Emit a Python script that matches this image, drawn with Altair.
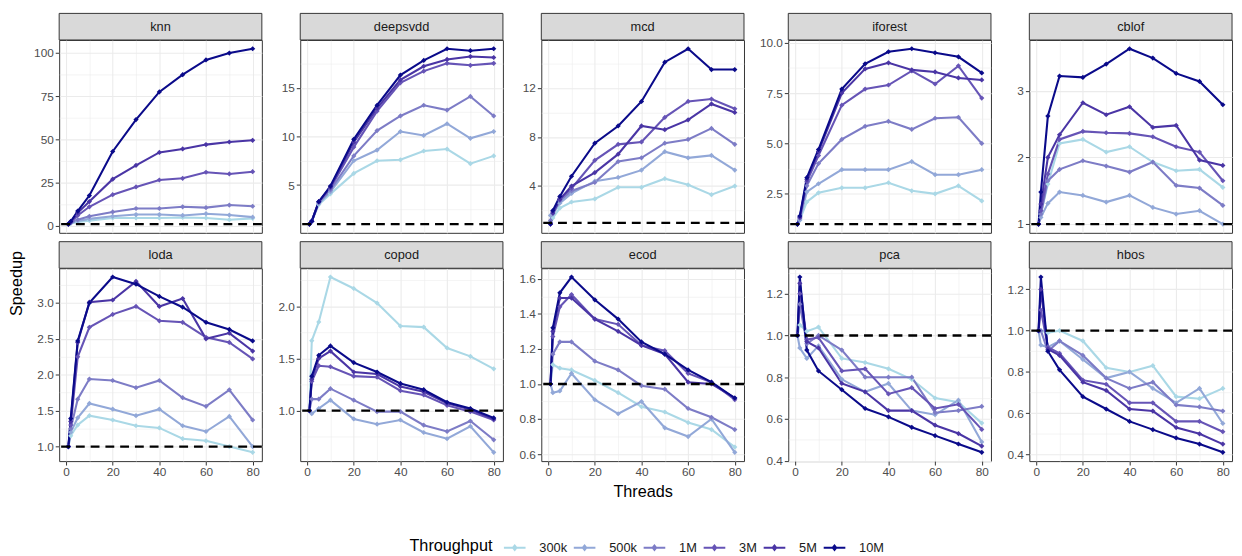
import json
import altair as alt
import pandas as pd

threads = [1, 2, 5, 10, 20, 30, 40, 50, 60, 70, 80]
levels = ["300k", "500k", "1M", "3M", "5M", "10M"]
palette = ["#aad8e6", "#92a8d8", "#7d7cc6", "#6654b6", "#4a35a5", "#0a0a8a"]

knn = {
    "300k": [1, 1.4, 2.2, 3.0, 4.5, 4.5, 4.5, 4.8, 4.5, 3.5, 4.3],
    "500k": [1, 1.6, 2.8, 4.0, 5.5, 6.5, 6.5, 6.0, 7.0, 6.2, 5.0],
    "1M": [1, 1.8, 3.5, 5.5, 8.0, 10.0, 10.0, 11.0, 10.5, 12.0, 11.3],
    "3M": [1, 2.0, 6.0, 11.0, 18.0, 22.5, 26.5, 27.5, 31.0, 30.0, 31.3],
    "5M": [1, 2.3, 7.5, 14.0, 27.0, 35.0, 42.5, 44.5, 47.0, 48.5, 49.5],
    "10M": [1, 2.5, 8.5, 17.5, 43.0, 61.5, 77.5, 87.5, 96.0, 100.0, 102.5],
}
deepsvdd = {
    "300k": [1, 1.3, 3.0, 4.1, 6.2, 7.5, 7.6, 8.5, 8.7, 7.2, 8.0],
    "500k": [1, 1.3, 3.1, 4.3, 7.5, 8.6, 10.5, 10.1, 11.3, 9.8, 10.5],
    "1M": [1, 1.3, 3.2, 4.5, 8.0, 10.6, 12.1, 13.2, 12.7, 14.1, 12.1],
    "3M": [1, 1.3, 3.3, 4.7, 8.9, 12.6, 15.5, 16.7, 17.5, 17.3, 17.5],
    "5M": [1, 1.3, 3.3, 4.8, 9.4, 12.9, 15.8, 17.2, 17.9, 18.2, 18.1],
    "10M": [1, 1.3, 3.3, 4.9, 9.7, 13.2, 16.3, 17.8, 19.0, 18.8, 19.0],
}
mcd = {
    "300k": [1.1, 1.4, 2.2, 2.7, 2.95, 3.9, 3.9, 4.6, 4.1, 3.3, 4.0],
    "500k": [1.6, 1.7, 2.6, 3.4, 4.4, 4.7, 5.3, 6.8, 6.3, 6.5, 5.3],
    "1M": [1.2, 1.8, 2.8, 3.6, 4.3, 6.0, 6.3, 7.5, 7.8, 8.7, 7.4],
    "3M": [1.0, 1.9, 3.0, 3.8, 6.1, 7.4, 7.6, 9.6, 10.9, 11.1, 10.3],
    "5M": [0.9, 1.8, 2.9, 4.0, 5.1, 6.6, 8.9, 8.6, 9.4, 10.7, 10.0],
    "10M": [0.9, 2.0, 3.15, 4.8, 7.5, 8.9, 10.9, 14.1, 15.2, 13.5, 13.5],
}
iforest = {
    "300k": [1.0, 1.2, 2.1, 2.55, 2.8, 2.8, 3.05, 2.65, 2.5, 2.9, 2.15],
    "500k": [1.0, 1.2, 2.6, 3.0, 3.7, 3.7, 3.7, 4.1, 3.45, 3.45, 3.7],
    "1M": [1.0, 1.3, 2.9, 4.0, 5.2, 5.85, 6.1, 5.7, 6.25, 6.3, 5.0],
    "3M": [1.0, 1.3, 3.1, 4.4, 6.9, 7.7, 7.9, 8.6, 7.95, 8.85, 7.25],
    "5M": [1.0, 1.35, 3.2, 4.6, 7.5, 8.7, 9.0, 8.65, 8.55, 8.25, 8.15],
    "10M": [1.0, 1.4, 3.3, 4.7, 7.7, 8.95, 9.55, 9.7, 9.5, 9.3, 8.5],
}
cblof = {
    "300k": [1.0, 1.15, 1.6, 2.21, 2.27, 2.08, 2.16, 1.93, 1.8, 1.82, 1.55],
    "500k": [1.0, 1.1, 1.31, 1.48, 1.43, 1.33, 1.43, 1.25, 1.15, 1.2, 1.0],
    "1M": [1.0, 1.15, 1.65, 1.82, 1.95, 1.87, 1.78, 1.93, 1.58, 1.54, 1.28],
    "3M": [1.0, 1.2, 1.75, 2.27, 2.39, 2.37, 2.36, 2.31, 2.16, 2.08, 1.65],
    "5M": [1.0, 1.3, 2.0, 2.34, 2.82, 2.64, 2.76, 2.45, 2.48, 1.96, 1.88],
    "10M": [1.0, 1.48, 2.62, 3.22, 3.2, 3.4, 3.63, 3.49, 3.26, 3.14, 2.79],
}
loda = {
    "300k": [1.0, 1.15, 1.3, 1.43, 1.37, 1.29, 1.26, 1.11, 1.08, 1.0, 0.92],
    "500k": [1.0, 1.2, 1.4, 1.6, 1.52, 1.43, 1.52, 1.29, 1.21, 1.42, 1.0],
    "1M": [1.0, 1.25, 1.66, 1.94, 1.92, 1.82, 1.92, 1.68, 1.56, 1.79, 1.37],
    "3M": [1.0, 1.3, 2.25, 2.66, 2.84, 2.95, 2.75, 2.73, 2.52, 2.45, 2.22],
    "5M": [1.0, 1.35, 2.45, 3.01, 3.04, 3.3, 2.95, 3.06, 2.5, 2.58, 2.33],
    "10M": [1.0, 1.39, 2.47, 3.0, 3.36, 3.26, 3.09, 2.94, 2.73, 2.63, 2.47],
}
copod = {
    "300k": [1.0, 1.67, 1.85, 2.28, 2.17, 2.03, 1.81, 1.8, 1.6, 1.52, 1.4],
    "500k": [1.0, 0.97, 1.02, 1.1, 0.92, 0.87, 0.91, 0.79, 0.73, 0.85, 0.6],
    "1M": [1.0, 1.11, 1.11, 1.21, 1.1, 0.99, 0.99, 0.86, 0.8, 0.9, 0.72],
    "3M": [1.0, 1.28, 1.43, 1.42, 1.33, 1.32, 1.19, 1.15, 1.05, 0.99, 0.91],
    "5M": [1.0, 1.3, 1.5, 1.57, 1.37, 1.35, 1.23, 1.18, 1.07, 1.01, 0.92],
    "10M": [1.0, 1.33, 1.53, 1.62, 1.46, 1.37, 1.26, 1.2, 1.08, 1.02, 0.93],
}
ecod = {
    "300k": [1.0, 1.11, 1.09, 1.08, 1.02, 0.95, 0.87, 0.84, 0.78, 0.74, 0.64],
    "500k": [1.0, 0.95, 0.96, 1.06, 0.91, 0.83, 0.9, 0.75, 0.7, 0.8, 0.61],
    "1M": [1.0, 1.17, 1.24, 1.24, 1.13, 1.08, 0.99, 0.97, 0.86, 0.81, 0.74],
    "3M": [1.0, 1.27, 1.44, 1.51, 1.37, 1.34, 1.22, 1.19, 1.06, 1.01, 0.91],
    "5M": [1.0, 1.3, 1.49, 1.49, 1.37, 1.3, 1.22, 1.17, 1.01, 1.0, 0.92],
    "10M": [1.0, 1.32, 1.52, 1.61, 1.48, 1.37, 1.24, 1.17, 1.08, 1.01, 0.92],
}
pca = {
    "300k": [1.0, 1.05, 1.02, 1.04, 0.89, 0.87, 0.84, 0.79, 0.7, 0.68, 0.58],
    "500k": [1.0, 0.94, 0.89, 0.95, 0.79, 0.73, 0.77, 0.64, 0.62, 0.69, 0.49],
    "1M": [1.0, 1.15, 0.96, 1.0, 0.93, 0.8, 0.8, 0.8, 0.63, 0.64, 0.66],
    "3M": [1.0, 1.2, 0.98, 0.99, 0.83, 0.84, 0.72, 0.75, 0.65, 0.67, 0.55],
    "5M": [1.0, 1.25, 0.97, 0.94, 0.77, 0.73, 0.64, 0.64, 0.57, 0.53, 0.47],
    "10M": [1.0, 1.28, 0.93, 0.83, 0.74, 0.65, 0.61, 0.56, 0.52, 0.48, 0.44],
}
hbos = {
    "300k": [1.0, 1.0, 0.99, 1.0, 0.95, 0.82, 0.8, 0.83, 0.68, 0.67, 0.72],
    "500k": [1.0, 0.93, 0.92, 0.95, 0.86, 0.77, 0.8, 0.72, 0.65, 0.72, 0.55],
    "1M": [1.0, 1.0, 0.9, 0.95, 0.88, 0.77, 0.72, 0.75, 0.64, 0.63, 0.61],
    "3M": [1.0, 1.1, 0.92, 0.89, 0.76, 0.74, 0.65, 0.65, 0.56, 0.56, 0.51],
    "5M": [1.0, 1.2, 0.91, 0.88, 0.75, 0.71, 0.62, 0.61, 0.53, 0.5, 0.45],
    "10M": [1.0, 1.26, 0.9, 0.81, 0.68, 0.62, 0.56, 0.52, 0.48, 0.45, 0.41],
}

DATA = {"knn": knn, "deepsvdd": deepsvdd, "mcd": mcd, "iforest": iforest, "cblof": cblof,
        "loda": loda, "copod": copod, "ecod": ecod, "pca": pca, "hbos": hbos}

y_ticks = {
    "knn": [0, 25, 50, 75, 100],
    "deepsvdd": [5, 10, 15],
    "mcd": [4, 8, 12],
    "iforest": [2.5, 5.0, 7.5, 10.0],
    "cblof": [1, 2, 3],
    "loda": [1.0, 1.5, 2.0, 2.5, 3.0],
    "copod": [1.0, 1.5, 2.0],
    "ecod": [0.6, 0.8, 1.0, 1.2, 1.4, 1.6],
    "pca": [0.4, 0.6, 0.8, 1.0, 1.2],
    "hbos": [0.4, 0.6, 0.8, 1.0, 1.2],
}
y_fmt = {"knn": "d", "deepsvdd": "d", "mcd": "d", "cblof": "d"}
x_ticks = [0, 20, 40, 60, 80]

layout_cols = [("knn", "loda"), ("deepsvdd", "copod"), ("mcd", "ecod"),
               ("iforest", "pca"), ("cblof", "hbos")]

W, H, STRIP = 206, 196, 27
FONT = "Liberation Sans"


def expand(lo, hi, f=0.05):
    p = (hi - lo) * f
    return [lo - p, hi + p]


def with_minor(majors, dom):
    step = majors[1] - majors[0]
    minors = [round(majors[0] - step / 2 + k * step, 6) for k in range(len(majors) + 1)]
    vals = sorted(set(majors + [m for m in minors if dom[0] <= m <= dom[1]]))
    return vals


def axis_for(majors, dom, fmt, show_labels, title):
    test = "indexof(%s, datum.value) >= 0" % json.dumps(majors)
    kw = dict(
        values=with_minor(majors, dom),
        format=fmt,
        labelExpr="%s ? datum.label : ''" % test,
        labelOverlap=False,
        labelFlush=False,
        gridWidth={"condition": {"test": test, "value": 1.1}, "value": 0.55},
        tickOpacity={"condition": {"test": test, "value": 1}, "value": 0},
        labels=show_labels,
        ticks=show_labels,
        title=title,
    )
    return alt.Axis(**kw)


legend = alt.Legend(
    orient="none", legendX=356, legendY=504, direction="horizontal",
    title="Throughput", titleOrient="left", titleFontSize=16.5, titleFontWeight="normal",
    titleFont=FONT, titleColor="black", titlePadding=10, labelFontSize=13, labelFont=FONT,
    labelColor="#1a1a1a", labelOffset=13, columnPadding=2,
    symbolType="M-1,0L1,0M-0.16,0L0,-0.2L0.16,0L0,0.2Z", symbolSize=484,
    symbolStrokeWidth=2,
)


def panel(name, bottom):
    series = DATA[name]
    rows = [{"threads": t, "speedup": v, "throughput": lv}
            for lv in levels for t, v in zip(threads, series[lv])]
    df = pd.DataFrame(rows)
    vals = df["speedup"].tolist() + [1.0]
    ydom = expand(min(vals), max(vals))
    xdom = expand(min(threads), max(threads))
    xaxis = axis_for(x_ticks, xdom, "d", bottom, "Threads" if name == "ecod" else None)
    yaxis = axis_for(y_ticks[name], ydom, y_fmt.get(name, ".1f"), True, None)
    X = alt.X("threads:Q", scale=alt.Scale(domain=xdom, nice=False, zero=False), axis=xaxis)
    Y = alt.Y("speedup:Q", scale=alt.Scale(domain=ydom, nice=False, zero=False), axis=yaxis)
    C = alt.Color("throughput:N", scale=alt.Scale(domain=levels, range=palette), legend=legend)
    base = alt.Chart(df)
    line = base.mark_line(strokeWidth=2.1).encode(x=X, y=Y, color=C)
    pts = base.mark_point(shape="diamond", filled=True, size=28, opacity=1).encode(x=X, y=Y, color=C)
    hline = alt.Chart(pd.DataFrame({"speedup": [1.0]})).mark_rule(
        color="black", strokeWidth=2.4, strokeDash=[9, 6]).encode(y=Y)
    strip = alt.Chart(pd.DataFrame({"label": [name]})).mark_rect(
        fill="#d9d9d9", stroke="#333333", strokeWidth=1).encode(
        x=alt.value(0), x2=alt.value(W), y=alt.value(-STRIP), y2=alt.value(0))
    txt = alt.Chart(pd.DataFrame({"label": [name]})).mark_text(
        fontSize=13, font=FONT, color="#1a1a1a", baseline="middle").encode(
        text="label:N", x=alt.value(W / 2), y=alt.value(-STRIP / 2))
    return alt.layer(line, pts, hline, strip, txt).properties(width=W, height=H)


cols = [alt.vconcat(panel(t, False), panel(b, True), spacing=36, bounds="flush")
        for t, b in layout_cols]

chart = alt.hconcat(*cols, spacing=13, bounds="full").properties(
    title=alt.TitleParams(text="Speedup", orient="left", anchor="middle", fontSize=16.5,
                          fontWeight="normal", font=FONT, color="black", offset=8),
    padding={"left": 0, "top": 0, "right": 0, "bottom": 0},
).configure_view(stroke="#333333", strokeWidth=1).configure_axis(
    gridColor="#ebebeb", domain=False, tickColor="#333333", tickSize=4,
    labelColor="#4d4d4d", labelFontSize=12, labelFont=FONT, labelPadding=2,
    titleFont=FONT, titleFontSize=16.5, titleFontWeight="normal", titleColor="black",
    titlePadding=6,
)

chart.save("out.html", embed_options={"renderer": "svg", "actions": False})
